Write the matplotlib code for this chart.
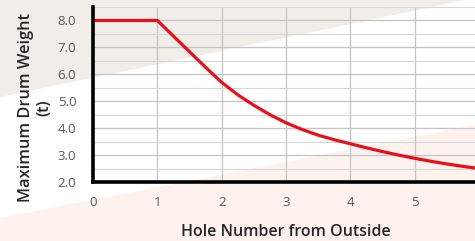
import matplotlib.pyplot as plt
from matplotlib.patches import Polygon
from matplotlib.ticker import MultipleLocator

# ---------- data ----------
hole = [0, 1, 1.25, 1.5, 1.75, 2, 2.25, 2.5, 2.75, 3, 3.25, 3.5, 3.75,
        4, 4.25, 4.5, 4.75, 5, 5.25, 5.5, 5.75, 6]
weight = [8.0, 8.0, 7.42, 6.84, 6.26, 5.7, 5.24, 4.85, 4.5, 4.2, 3.95, 3.74, 3.57,
          3.42, 3.27, 3.13, 3.0, 2.88, 2.77, 2.67, 2.58, 2.5]
x_ticks = [0, 1, 2, 3, 4, 5, 6]
y_ticks = [2.0, 3.0, 4.0, 5.0, 6.0, 7.0, 8.0]

plt.rcParams['font.family'] = ['Open Sans', 'DejaVu Sans']

fig = plt.figure(figsize=(4.75, 2.41), dpi=100)
fig.patch.set_facecolor('white')

# ---------- background stripes (figure pixel coords, origin bottom left) ----------
W, H = 475, 241
top_band = Polygon([(0, H), (0, H - 97), (W, H + 2)], closed=True,
                   transform=None, facecolor='#f1ede8', edgecolor='none', zorder=-10)
low_band = Polygon([(0, 0), (0, H - 218), (W, H - 125), (W, 0)], closed=True,
                   transform=None, facecolor='#fdf2ee', edgecolor='none', zorder=-10)
fig.patches.extend([top_band, low_band])

# ---------- axes ----------
ax = fig.add_axes([93 / W, 1 - 182 / H, 386 / W, 175 / H])
ax.patch.set_alpha(0)

ax.plot(hole, weight, color='#e8101a', lw=2.3, solid_joinstyle='round', zorder=3, clip_on=False)

ax.set_xlim(0, 6)
ax.set_ylim(2, 8.5)
ax.set_xticks(x_ticks)
ax.set_yticks(y_ticks)
ax.set_yticklabels([f'{v:.1f}' for v in y_ticks])
ax.yaxis.set_minor_locator(MultipleLocator(0.5))

ax.grid(True, which='major', color='#c4c4c4', lw=0.9)
ax.grid(True, which='minor', axis='y', color='#d6d6d6', lw=0.8)
ax.set_axisbelow(True)

for side in ['top', 'right']:
    ax.spines[side].set_visible(False)
for side in ['left', 'bottom']:
    ax.spines[side].set_color('black')
    ax.spines[side].set_linewidth(2.6)
    ax.spines[side].set_zorder(4)

ax.tick_params(axis='both', which='both', length=0, labelsize=9.5, labelcolor='#595959')
ax.tick_params(axis='x', pad=10)
ax.tick_params(axis='y', pad=12)

ax.set_xlabel('Hole Number from Outside', fontsize=11.5, fontweight='semibold', color='#262626', labelpad=11)
ax.set_ylabel('Maximum Drum Weight\n(t)', fontsize=11.8, fontweight='semibold', color='#262626',
              linespacing=1.15)
ax.yaxis.set_label_coords(-0.106, 0.426)

fig.savefig('out.png', dpi=100)
